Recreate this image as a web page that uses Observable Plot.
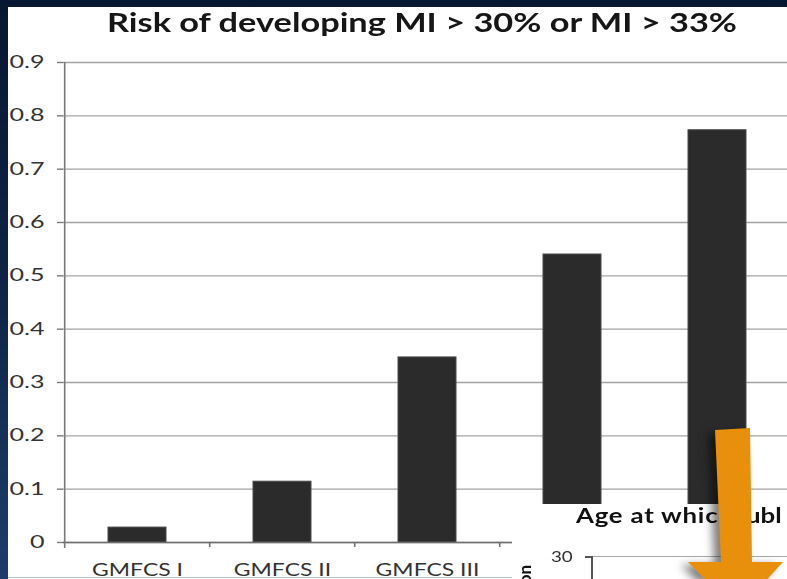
<!DOCTYPE html>
<html>
<head>
<meta charset="utf-8">
<script src="https://cdn.jsdelivr.net/npm/d3@7"></script>
<script src="https://cdn.jsdelivr.net/npm/@observablehq/plot@0.6"></script>
<style>
  html, body { margin: 0; padding: 0; background: #0b1a33; }
  #stage { position: relative; width: 787px; height: 579px; overflow: hidden;
           background: linear-gradient(180deg, #081731 0%, #0f2446 50%, #1d3c6b 100%); }
  #panel { position: absolute; left: 8px; top: 7px; right: 0; bottom: 0; background: #ffffff; }
  #chart { position: absolute; left: 0; top: 0; }
  #chart svg { overflow: visible; }
  #title { position: absolute; left: 107px; top: 8px; white-space: nowrap;
           font: bold 27px Lato, "Open Sans", sans-serif; line-height: 1; color: #161616;
           transform-origin: 0 0; }
  #inset { position: absolute; left: 512px; top: 504px; width: 280px; height: 80px; background: #ffffff; }
  #insetTitle { position: absolute; left: 576px; top: 505px; white-space: nowrap;
                font: bold 20px Lato, "Open Sans", sans-serif; line-height: 1; color: #111;
                transform-origin: 0 0; }
  #insetTitle .vis { letter-spacing: 0.6px; }
  #insetTitle .hid { letter-spacing: -4.4px; }
  #insetTick { position: absolute; left: 551px; top: 549px; white-space: nowrap;
               font: 15px Lato, "Open Sans", sans-serif; line-height: 1; color: #333;
               transform-origin: 0 0; }
  #insetAxis { position: absolute; left: 591px; top: 556px; width: 1.6px; height: 30px; background: #555; }
  #insetTickMark { position: absolute; left: 585px; top: 556px; width: 7px; height: 1.6px; background: #555; }
  #insetGrid { position: absolute; left: 592px; top: 556px; width: 200px; height: 1.4px; background: #a8a8a8; }
  #insetYLabel { position: absolute; left: 516px; top: 565px; white-space: nowrap;
                 font: bold 17px Lato, "Open Sans", sans-serif; line-height: 1; color: #111;
                 writing-mode: vertical-rl; transform: rotate(180deg); }
  #slideLine { position: absolute; left: 8px; top: 577px; width: 504px; height: 1px; background: #b3c5dc; }
  #arrow { position: absolute; left: 0; top: 0; filter: drop-shadow(-7px 3px 4px rgba(0,0,0,0.5)); }
</style>
</head>
<body>
<div id="stage">
  <div id="panel"></div>
  <div id="chart"></div>
  <div id="title"></div>
  <div id="slideLine"></div>
  <div id="inset"></div>
  <div id="insetGrid"></div>
  <div id="insetAxis"></div>
  <div id="insetTickMark"></div>
  <div id="insetTick"></div>
  <div id="insetYLabel"></div>
  <div id="insetTitle"></div>
  <svg id="arrow" width="787" height="579"></svg>
</div>
<script>
// ---------- data ----------
const categories = ["GMFCS I", "GMFCS II", "GMFCS III", "GMFCS IV", "GMFCS V"];
const riskValues = [0.028, 0.114, 0.347, 0.540, 0.773];
const visibleLabels = ["GMFCS I", "GMFCS II", "GMFCS III"]; // IV and V are hidden by the overlapping inset
const yTickValues = [0, 0.1, 0.2, 0.3, 0.4, 0.5, 0.6, 0.7, 0.8, 0.9];
const yTickLabels = ["0", "0.1", "0.2", "0.3", "0.4", "0.5", "0.6", "0.7", "0.8", "0.9"];
const titleText = "Risk of developing MI > 30% or MI > 33%";
const insetTitleParts = ["Age at whic", "h do", "ubl"];
const insetTickText = "30";
const insetYLabelText = "Proportion";

// ---------- chart ----------
const rows = categories.map((c, i) => ({category: c, value: riskValues[i]}));
const W = 787, H = 579, mL = 63, mR = -4, mT = 62, mB = 37;
const halfStep = (W - mL - mR) / categories.length / 2;

const svg = Plot.plot({
  width: W, height: H,
  marginLeft: mL, marginRight: mR, marginTop: mT, marginBottom: mB,
  style: {background: "transparent", fontFamily: "Lato, 'Open Sans', sans-serif", color: "#333"},
  x: {domain: categories, paddingInner: 0.6, paddingOuter: 0.3},
  y: {domain: [0, 0.9]},
  marks: [
    Plot.gridY(yTickValues, {stroke: "#a3a3a3", strokeOpacity: 1, strokeWidth: 1.4}),
    Plot.barY(rows, {x: "category", y: "value", fill: "#2b2b2b", stroke: "#4a4a4a", strokeWidth: 1}),
    Plot.ruleY([0], {stroke: "#6e6e6e", strokeWidth: 1.6}),
    Plot.ruleX([categories[0]], {x: d => d, dx: -halfStep, y1: 0.9, y2: 0, insetBottom: -6, stroke: "#7a7a7a", strokeWidth: 1.6}),
    Plot.ruleX(categories.slice(1), {x: d => d, dx: -halfStep, y1: 0, y2: 0, insetBottom: -5, stroke: "#6e6e6e", strokeWidth: 1.6}),
    Plot.axisY(yTickValues, {tickSize: 6, tickPadding: 13, fontSize: 17, stroke: "#7a7a7a", strokeWidth: 1.4, fill: "#333",
      tickFormat: d => yTickLabels[yTickValues.indexOf(d)], label: null}),
    Plot.axisX(visibleLabels, {tickSize: 0, tickPadding: 21, fontSize: 17, fill: "#333", label: null})
  ]
});
document.getElementById("chart").appendChild(svg);

// stretch glyphs horizontally (the slide picture is stretched)
function stretchAll(selector, sampleText, targetWidth) {
  const texts = Array.from(svg.querySelectorAll(selector));
  if (!texts.length) return;
  const sample = texts.find(t => t.textContent === sampleText) || texts[0];
  const w = sample.getBBox().width;
  const f = w > 0 ? targetWidth / w : 1.3;
  texts.forEach(t => {
    const ax = parseFloat(t.getAttribute("x") || 0) || 0;
    const tr = t.getAttribute("transform") || "";
    t.setAttribute("transform", `${tr} translate(${ax},0) scale(${f},1) translate(${-ax},0)`);
  });
}
stretchAll('g[aria-label="y-axis tick label"] text', "0.9", 35);
stretchAll('g[aria-label="x-axis tick label"] text', "GMFCS I", 91);

// ---------- title & overlay text ----------
function fitText(id, text, targetWidth) {
  const el = document.getElementById(id);
  el.textContent = text;
  const w = el.getBoundingClientRect().width;
  el.style.transform = `scale(${targetWidth / w},1)`;
}
fitText("title", titleText, 630);
const it = d3.select("#insetTitle");
it.append("span").attr("class", "vis").text(insetTitleParts[0]);
it.append("span").attr("class", "hid").text(insetTitleParts[1]);
it.append("span").text(insetTitleParts[2]);
it.style("transform", "scale(1.29,1)");
document.getElementById("insetTick").textContent = insetTickText;
document.getElementById("insetTick").style.transform = "scale(1.25,1)";
document.getElementById("insetYLabel").textContent = insetYLabelText;

// ---------- orange arrow ----------
const arrowPts = [[715, 430], [750, 428], [752, 562], [783, 562], [737, 612], [688, 562], [721, 562]];
d3.select("#arrow").append("polygon")
  .attr("points", arrowPts.map(p => p.join(",")).join(" "))
  .attr("fill", "#e8900c");
</script>
</body>
</html>
